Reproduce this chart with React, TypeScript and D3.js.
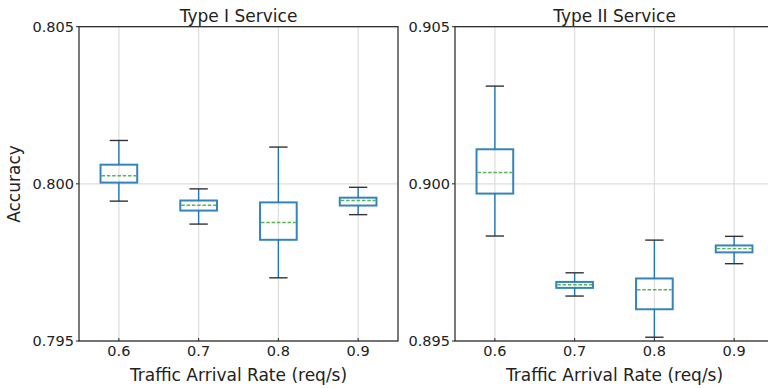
import React from "react";
import * as d3 from "d3";

// arrival rates on the x axis
const rates = ["0.6", "0.7", "0.8", "0.9"];

// Type I service: whisker low, q1, mean, q3, whisker high
const type1Low = [0.79945, 0.79872, 0.79701, 0.79902];
const type1Q1 = [0.80004, 0.79915, 0.79822, 0.79931];
const type1Mean = [0.80026, 0.79932, 0.79877, 0.79947];
const type1Q3 = [0.80061, 0.79947, 0.79941, 0.79956];
const type1High = [0.80138, 0.79984, 0.80117, 0.79989];

// Type II service
const type2Low = [0.89834, 0.89643, 0.89512, 0.89746];
const type2Q1 = [0.89969, 0.89669, 0.89601, 0.89782];
const type2Mean = [0.90036, 0.89679, 0.89663, 0.89794];
const type2Q3 = [0.9011, 0.89688, 0.89699, 0.89804];
const type2High = [0.90311, 0.89717, 0.89821, 0.89833];

const type1Ticks = [0.795, 0.8, 0.805];
const type2Ticks = [0.895, 0.9, 0.905];

const FONT = "DejaVu Sans, sans-serif";
const BLUE = "#1f77b4";

type PanelProps = {
  left: number;
  title: string;
  ticks: number[];
  low: number[];
  q1: number[];
  mean: number[];
  q3: number[];
  high: number[];
};

function Panel(props: PanelProps) {
  const { left, title, ticks, low, q1, mean, q3, high } = props;
  const top = 26.7, bottom = 341, width = 319;

  const x = d3.scalePoint<string>().domain(rates).range([left, left + width]).padding(0.5);
  const y = d3.scaleLinear().domain([ticks[0], ticks[ticks.length - 1]]).range([bottom, top]);
  const step = x.step();
  const boxW = step * 0.46;
  const capW = boxW / 2;

  return (
    <g>
      {/* grid */}
      {rates.map((r) => (
        <line key={"gx" + r} x1={x(r)} x2={x(r)} y1={top} y2={bottom} stroke="#dedede" strokeWidth={1.2} />
      ))}
      {ticks.map((t) => (
        <line key={"gy" + t} x1={left} x2={left + width} y1={y(t)} y2={y(t)} stroke="#dedede" strokeWidth={1.2} />
      ))}

      {/* boxes */}
      {rates.map((r, i) => {
        const cx = x(r) as number;
        return (
          <g key={"b" + r}>
            <line x1={cx} x2={cx} y1={y(high[i])} y2={y(q3[i])} stroke={BLUE} strokeWidth={1.4} />
            <line x1={cx} x2={cx} y1={y(q1[i])} y2={y(low[i])} stroke={BLUE} strokeWidth={1.4} />
            <line x1={cx - capW / 2} x2={cx + capW / 2} y1={y(high[i])} y2={y(high[i])} stroke="#333" strokeWidth={1.4} />
            <line x1={cx - capW / 2} x2={cx + capW / 2} y1={y(low[i])} y2={y(low[i])} stroke="#333" strokeWidth={1.4} />
            <rect x={cx - boxW / 2} y={y(q3[i])} width={boxW} height={y(q1[i]) - y(q3[i])}
              fill="none" stroke={BLUE} strokeWidth={2} strokeOpacity={0.9} />
            <line x1={cx - boxW / 2 + 1} x2={cx + boxW / 2 - 1} y1={y(mean[i])} y2={y(mean[i])}
              stroke="#2ca02c" strokeWidth={1.4} strokeDasharray="3.5,1.8" strokeOpacity={0.8} />
          </g>
        );
      })}

      {/* spines */}
      <rect x={left} y={top} width={width} height={bottom - top} fill="none" stroke="#222" strokeWidth={1.2} />

      {/* y ticks */}
      {ticks.map((t) => (
        <g key={"ty" + t}>
          <line x1={left - 3} x2={left} y1={y(t)} y2={y(t)} stroke="#222" strokeWidth={1} />
          <text x={left - 5} y={y(t) + 5.3} textAnchor="end" fontFamily={FONT} fontSize={14.5} fill="#222">
            {d3.format(".3f")(t)}
          </text>
        </g>
      ))}

      {/* x ticks */}
      {rates.map((r) => (
        <g key={"tx" + r}>
          <line x1={x(r)} x2={x(r)} y1={bottom} y2={bottom - 3} stroke="#222" strokeWidth={1} />
          <text x={x(r)} y={356} textAnchor="middle" fontFamily={FONT} fontSize={14.5} fill="#222">{r}</text>
        </g>
      ))}

      <text x={left + width / 2} y={21.5} textAnchor="middle" fontFamily={FONT} fontSize={17} fill="#222">{title}</text>
      <text x={left + width / 2} y={381} textAnchor="middle" fontFamily={FONT} fontSize={17} fill="#222">
        Traffic Arrival Rate (req/s)
      </text>
    </g>
  );
}

export default function App() {
  return (
    <svg width={768} height={388} style={{ position: "absolute", left: 0, top: 0, background: "#fff" }}>
      <rect x={0} y={0} width={768} height={388} fill="#fff" />
      <Panel left={79} title="Type I Service" ticks={type1Ticks}
        low={type1Low} q1={type1Q1} mean={type1Mean} q3={type1Q3} high={type1High} />
      <Panel left={455} title="Type II Service" ticks={type2Ticks}
        low={type2Low} q1={type2Q1} mean={type2Mean} q3={type2Q3} high={type2High} />
      <text transform="translate(19.5,184) rotate(-90)" textAnchor="middle" fontFamily={FONT} fontSize={17} fill="#222">
        Accuracy
      </text>
    </svg>
  );
}
